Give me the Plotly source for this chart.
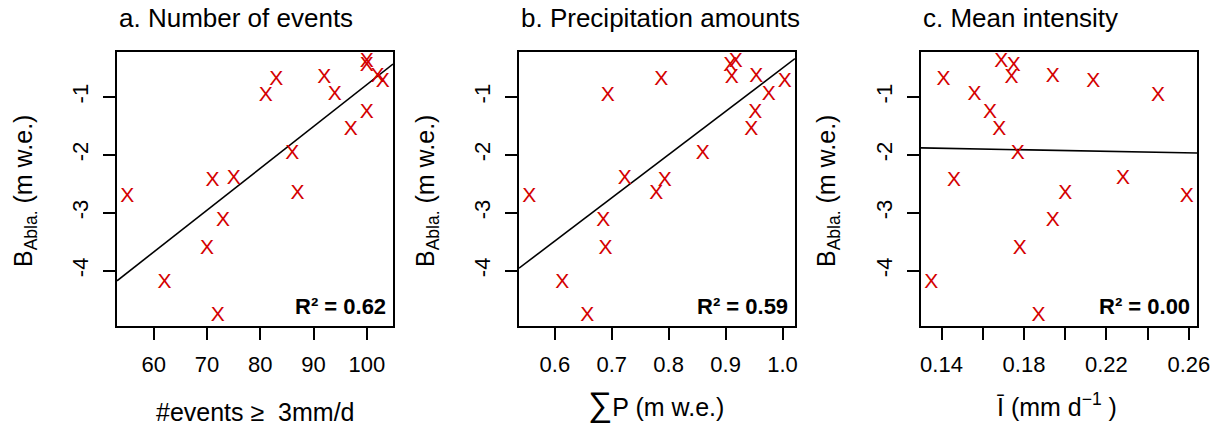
import numpy as np
import plotly.graph_objects as go

# ---- data ----
b_abla = [-2.72, -4.21, -3.63, -2.45, -4.78, -3.13, -2.42, -0.98, -0.70, -1.98,
          -2.68, -0.67, -0.97, -1.56, -1.27, -0.40, -0.46, -0.66, -0.74]
n_events = [55, 62, 70, 71, 72, 73, 75, 81, 83, 86,
            87, 92, 94, 97, 100, 100, 100, 102, 103]
precip_sum = [0.555, 0.613, 0.689, 0.793, 0.657, 0.685, 0.723, 0.693, 0.787, 0.860,
              0.778, 0.911, 0.976, 0.945, 0.952, 0.918, 0.908, 0.954, 1.004]
mean_int = [0.259, 0.135, 0.178, 0.146, 0.187, 0.194, 0.228, 0.245, 0.141, 0.177,
            0.200, 0.174, 0.156, 0.168, 0.1635, 0.169, 0.175, 0.194, 0.2136]

panel_titles = ["a. Number of events", "b. Precipitation amounts", "c. Mean intensity"]
r2_labels = ["R² = 0.62", "R² = 0.59", "R² = 0.00"]
x_titles = ["#events ≥  3mm/d",
            "<span style='font-size:34px'>∑</span>P (m w.e.)",
            "Ī (mm d<sup>−1</sup> )"]
y_title = "B<sub>Abla.</sub> (m w.e.)"
x_tickvals = [[60, 70, 80, 90, 100],
              [0.6, 0.7, 0.8, 0.9, 1.0],
              [0.14, 0.16, 0.18, 0.20, 0.22, 0.24, 0.26]]
x_ticktext = [["60", "70", "80", "90", "100"],
              ["0.6", "0.7", "0.8", "0.9", "1.0"],
              ["0.14", "", "0.18", "", "0.22", "", "0.26"]]
y_tickvals = [-4, -3, -2, -1]
y_ticktext = ["-4", "-3", "-2", "-1"]

xs_all = [n_events, precip_sum, mean_int]

W, H = 1217, 426
FONT = "Liberation Sans, Arial, sans-serif"
RED = "#D40000"

# plot boxes in pixels (left, right), shared top/bottom
boxes = [(117, 393), (519, 795), (921, 1197)]
top, bottom = 52, 326
x_title_pos = [(255, 412), (656, 404), (1057, 405)]
y_title_x = [25, 427, 828]


def padded(v):
    lo, hi = min(v), max(v)
    d = (hi - lo) * 0.04
    return [lo - d, hi + d]


fig = go.Figure()
yr = padded(b_abla)
annotations = []

for i, xs in enumerate(xs_all):
    sfx = "" if i == 0 else str(i + 1)
    xr = padded(xs)
    # regression line
    slope, icpt = np.polyfit(xs, b_abla, 1)
    lx = np.array(xr)
    fig.add_trace(go.Scatter(x=lx, y=icpt + slope * lx, mode="lines",
                             line=dict(color="black", width=1.6),
                             xaxis="x" + sfx, yaxis="y" + sfx,
                             showlegend=False, hoverinfo="skip"))
    fig.add_trace(go.Scatter(x=xs, y=b_abla, mode="text", text=["X"] * len(xs),
                             textposition="middle center",
                             textfont=dict(family=FONT, size=21, color=RED),
                             xaxis="x" + sfx, yaxis="y" + sfx, showlegend=False))
    l, r = boxes[i]
    axis_common = dict(showline=True, mirror=True, linecolor="black", linewidth=1.5,
                       ticks="outside", ticklen=12, tickwidth=1.5, tickcolor="black",
                       showgrid=False, zeroline=False, automargin=False,
                       tickfont=dict(family=FONT, size=22, color="black"))
    fig.update_layout(**{
        "xaxis" + sfx: dict(domain=[l / W, r / W], range=xr, anchor="y" + sfx,
                            tickvals=x_tickvals[i], ticktext=x_ticktext[i],
                            ticklabelstandoff=6, **axis_common),
        "yaxis" + sfx: dict(domain=[1 - bottom / H, 1 - top / H], range=yr,
                            anchor="x" + sfx, tickvals=y_tickvals, ticktext=y_ticktext,
                            tickangle=-90, ticklabelstandoff=6, **axis_common),
    })
    # panel title (left aligned at box)
    annotations.append(dict(text=panel_titles[i], x=l / W, y=1 - 18 / H,
                            xref="paper", yref="paper", xanchor="left", yanchor="middle",
                            showarrow=False, font=dict(family=FONT, size=26, color="black")))
    # R2
    annotations.append(dict(text="<b>" + r2_labels[i] + "</b>", x=(r - 5) / W,
                            y=1 - 306 / H, xref="paper", yref="paper",
                            xanchor="right", yanchor="middle", showarrow=False,
                            font=dict(family=FONT, size=22, color="black")))
    # x title
    xt, yt = x_title_pos[i]
    annotations.append(dict(text=x_titles[i], x=xt / W, y=1 - yt / H,
                            xref="paper", yref="paper", xanchor="center", yanchor="middle",
                            showarrow=False, font=dict(family=FONT, size=25, color="black")))
    # y title
    annotations.append(dict(text=y_title, x=y_title_x[i] / W, y=1 - 191 / H,
                            xref="paper", yref="paper", xanchor="center", yanchor="middle",
                            textangle=-90, showarrow=False,
                            font=dict(family=FONT, size=25, color="black")))

fig.update_layout(width=W, height=H, autosize=False,
                  margin=dict(l=0, r=0, t=0, b=0),
                  paper_bgcolor="white", plot_bgcolor="white",
                  annotations=annotations, showlegend=False)

fig.write_html("out.html", config={"displayModeBar": False},
               post_script="document.body.style.margin='0';document.body.style.overflow='hidden';")
